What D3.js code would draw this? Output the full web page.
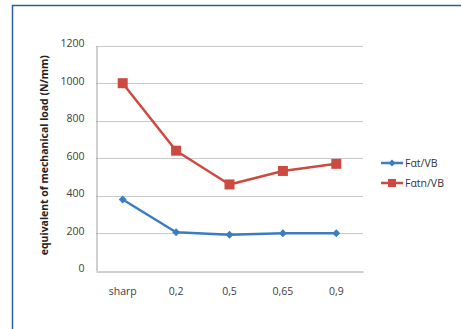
<!DOCTYPE html>
<html><head><meta charset="utf-8">
<script src="https://cdn.jsdelivr.net/npm/d3@7"></script>
<style>body{margin:0;background:#fff}svg{display:block}</style>
</head><body>
<script>
const categories = ["sharp", "0,2", "0,5", "0,65", "0,9"];
const fatVB = [380, 205, 192, 200, 200];
const fatnVB = [1000, 640, 460, 532, 570];
const yTicks = [0, 200, 400, 600, 800, 1000, 1200];
const seriesNames = ["Fαt/VB", "Fαtn/VB"];
const seriesColors = ["#3a7dc4", "#cc4a40"];

(function () {
const W = 461, H = 329;
const svg = d3.select("body").append("svg").attr("width", W).attr("height", H);
const FONT = "'Open Sans', sans-serif";

svg.append("rect").attr("x", 12.5).attr("y", 5.5).attr("width", 470).attr("height", 340)
  .attr("fill", "#fff").attr("stroke", "#2f5d9b").attr("stroke-width", 1.5);

const pl = 96, pr = 363, pt = 45.7, pb = 270.7;
const x = d3.scaleBand().domain(categories).range([pl, pr]);
const y = d3.scaleLinear().domain([0, 1200]).range([pb, pt]);

// gridlines
svg.append("g").selectAll("line").data(yTicks.filter(d => d > 0)).join("line")
  .attr("x1", pl).attr("x2", pr)
  .attr("y1", d => Math.round(y(d)) + 0.5).attr("y2", d => Math.round(y(d)) + 0.5)
  .attr("stroke", "#c8c8c8").attr("stroke-width", 1);

// y axis
const ya = svg.append("g").attr("transform", `translate(${pl + 0.5},0)`)
  .call(d3.axisLeft(y).tickValues(yTicks).tickFormat(d3.format("d")).tickSize(0).tickPadding(12));
ya.select(".domain").attr("stroke", "#a0a0a0");
ya.selectAll("text").attr("font-family", FONT).attr("font-size", 10.5).attr("fill", "#404040")
  .attr("dy", "0.1em");

// x axis
const xa = svg.append("g").attr("transform", `translate(0,${Math.round(pb) + 0.5})`)
  .call(d3.axisBottom(x).tickSize(0).tickPadding(16));
xa.select(".domain").attr("stroke", "#a0a0a0");
xa.selectAll("text").attr("font-family", FONT).attr("font-size", 10.5).attr("fill", "#404040");

// y title
svg.append("text").attr("transform", `translate(48,${(pt + pb) / 2 - 3}) rotate(-90)`)
  .attr("text-anchor", "middle").attr("font-family", FONT)
  .attr("font-weight", "bold").attr("font-size", 10).attr("fill", "#222")
  .attr("textLength", 200).attr("lengthAdjust", "spacingAndGlyphs")
  .text("equivalent of mechanical load (N/mm)");

const line = d3.line().x((d, i) => x(categories[i]) + x.bandwidth() / 2).y(d => y(d));

// series 1: diamonds
svg.append("path").datum(fatVB).attr("d", line).attr("fill", "none")
  .attr("stroke", seriesColors[0]).attr("stroke-width", 2.5).attr("stroke-linejoin", "round");
svg.append("g").selectAll("path").data(fatVB).join("path")
  .attr("d", d3.symbol(d3.symbolDiamond2, 40))
  .attr("transform", (d, i) => `translate(${x(categories[i]) + x.bandwidth() / 2},${y(d)})`)
  .attr("fill", seriesColors[0]);

// series 2: squares
svg.append("path").datum(fatnVB).attr("d", line).attr("fill", "none")
  .attr("stroke", seriesColors[1]).attr("stroke-width", 2.5).attr("stroke-linejoin", "round");
svg.append("g").selectAll("rect").data(fatnVB).join("rect")
  .attr("x", (d, i) => x(categories[i]) + x.bandwidth() / 2 - 5)
  .attr("y", d => y(d) - 5).attr("width", 10).attr("height", 10)
  .attr("fill", seriesColors[1]);

// legend
const lg = svg.append("g");
const ly = [163, 183];
seriesNames.forEach((name, i) => {
  lg.append("line").attr("x1", 381).attr("x2", 403).attr("y1", ly[i]).attr("y2", ly[i])
    .attr("stroke", seriesColors[i]).attr("stroke-width", 2.5);
  if (i === 0) {
    lg.append("path").attr("d", d3.symbol(d3.symbolDiamond2, 30))
      .attr("transform", `translate(392,${ly[i]})`).attr("fill", seriesColors[i]);
  } else {
    lg.append("rect").attr("x", 388).attr("y", ly[i] - 4).attr("width", 8).attr("height", 8)
      .attr("fill", seriesColors[i]);
  }
  lg.append("text").attr("x", 405).attr("y", ly[i] + 4)
    .attr("font-family", FONT).attr("font-size", 10.5).attr("fill", "#333")
    .text(name);
});
})();
</script>
</body></html>
